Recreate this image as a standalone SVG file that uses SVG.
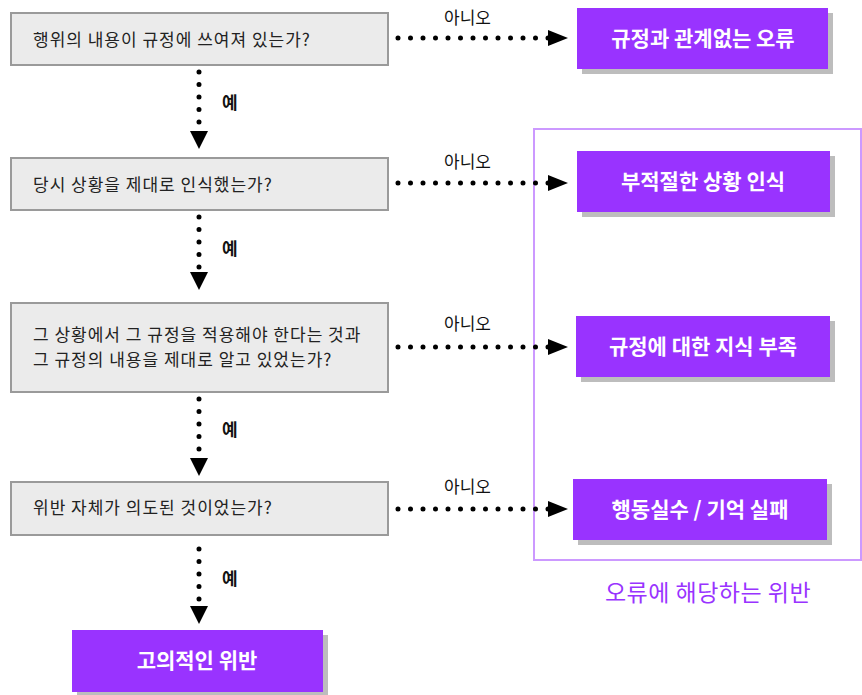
<svg xmlns="http://www.w3.org/2000/svg" width="862" height="695" viewBox="0 0 862 695">
<defs>
<style>
.q{fill:#ebebeb;stroke:#9a9a9a;stroke-width:2}
.qt{font-family:"Noto Sans CJK KR","Noto Sans",sans-serif;font-size:17px;letter-spacing:1px;fill:#222}
.r{fill:#9933ff}
.sh{fill:#bdbdbd}
.rt{font-family:"Noto Sans CJK KR","Noto Sans",sans-serif;font-size:21px;font-weight:bold;fill:#fff;text-anchor:middle}
.lb{font-family:"Noto Sans CJK KR","Noto Sans",sans-serif;font-size:17px;fill:#111}
.yes{font-family:"Noto Sans CJK KR","Noto Sans",sans-serif;font-size:17px;font-weight:bold;fill:#111}
.dot{fill:none;stroke:#000;stroke-width:5;stroke-linecap:round;stroke-dasharray:0 12.5}
</style>
</defs>
<rect x="534" y="129" width="327" height="431" fill="none" stroke="#cc99ff" stroke-width="2"/>
<text x="708" y="601" font-family="Noto Sans CJK KR, Noto Sans, sans-serif" font-size="23" letter-spacing="0.5" fill="#9933ff" text-anchor="middle">오류에 해당하는 위반</text>
<g id="q1"><rect class="q" x="11" y="13" width="377" height="52"/><text class="qt" x="33" y="46">행위의 내용이 규정에 쓰여져 있는가?</text></g>
<g id="q2"><rect class="q" x="11" y="158" width="377" height="52"/><text class="qt" x="33" y="191">당시 상황을 제대로 인식했는가?</text></g>
<g id="q3"><rect class="q" x="11" y="303" width="377" height="89"/><text class="qt" x="33" y="341">그 상황에서 그 규정을 적용해야 한다는 것과</text><text class="qt" x="33" y="366">그 규정의 내용을 제대로 알고 있었는가?</text></g>
<g id="q4"><rect class="q" x="11" y="482" width="377" height="53"/><text class="qt" x="33" y="514">위반 자체가 의도된 것이었는가?</text></g>
<g id="r1"><rect class="sh" x="582" y="13" width="251" height="61"/><rect class="r" x="577" y="8" width="251" height="61"/><text class="rt" x="703" y="46">규정과 관계없는 오류</text></g>
<g id="r2"><rect class="sh" x="582" y="156" width="253" height="61"/><rect class="r" x="577" y="151" width="253" height="61"/><text class="rt" x="703" y="189">부적절한 상황 인식</text></g>
<g id="r3"><rect class="sh" x="581" y="321" width="254" height="61"/><rect class="r" x="576" y="316" width="254" height="61"/><text class="rt" x="703" y="354">규정에 대한 지식 부족</text></g>
<g id="r4"><rect class="sh" x="578" y="484" width="254" height="61"/><rect class="r" x="573" y="479" width="254" height="61"/><text class="rt" x="700" y="517">행동실수 / 기억 실패</text></g>
<g id="r5"><rect class="sh" x="77" y="635" width="251" height="62"/><rect class="r" x="72" y="630" width="251" height="62"/><text class="rt" x="197" y="668">고의적인 위반</text></g>
<g id="connectors">
<path class="dot" d="M199 72V125M199 217V268M199 399V453M199 549V601"/>
<path d="M190 131H208L199 149Z M190 272H208L199 290Z M190 458H208L199 476Z M190 606H208L199 624Z"/>
<path class="dot" d="M398 38H549M398 183H549M398 347H549M398 509H549"/>
<path d="M548 30L568 38L548 46Z M548 175L568 183L548 191Z M548 339L568 347L548 355Z M548 501L568 509L548 517Z"/>
<text class="yes" x="222" y="109">예</text>
<text class="yes" x="222" y="255">예</text>
<text class="yes" x="222" y="436">예</text>
<text class="yes" x="222" y="585">예</text>
<text class="lb" x="444" y="24">아니오</text>
<text class="lb" x="444" y="168">아니오</text>
<text class="lb" x="444" y="330">아니오</text>
<text class="lb" x="444" y="493">아니오</text>
</g>
</svg>
